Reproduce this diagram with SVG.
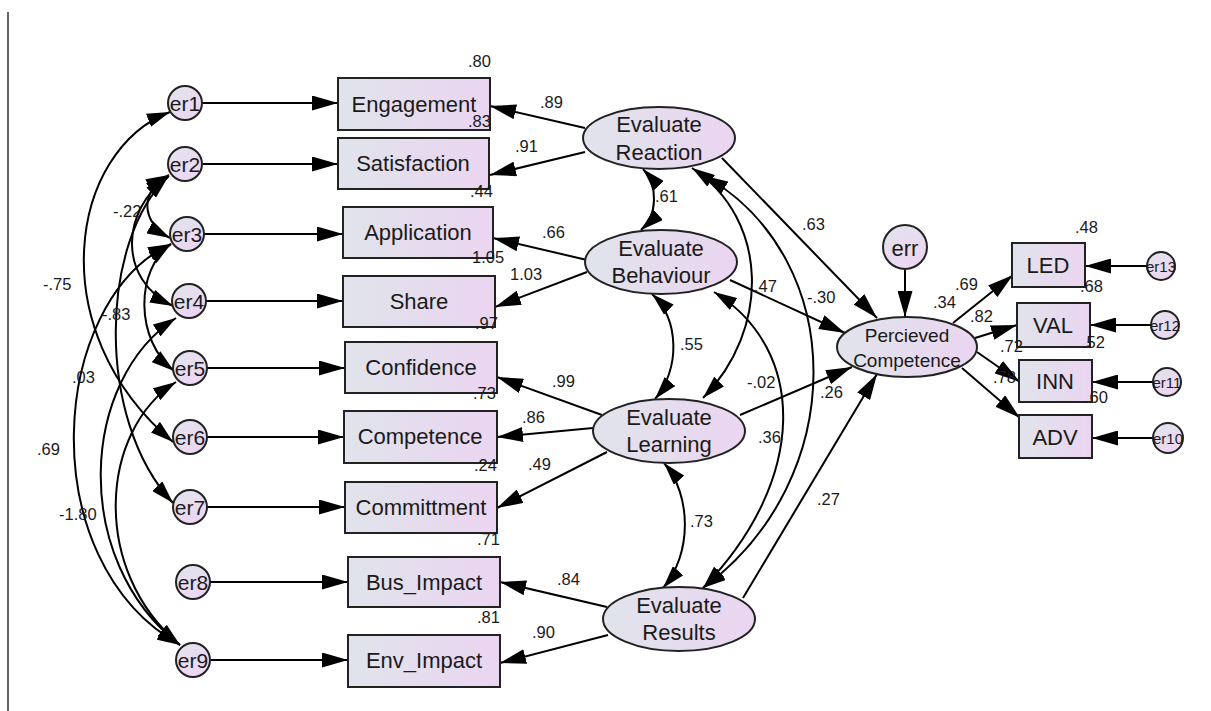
<svg xmlns="http://www.w3.org/2000/svg" width="1211" height="711" viewBox="0 0 1211 711">
<defs>
<linearGradient id="g" x1="0" y1="0" x2="1" y2="0"><stop offset="0" stop-color="#e0e4eb"/><stop offset="1" stop-color="#ebd5f1"/></linearGradient>
<linearGradient id="gc" x1="0" y1="0" x2="0.6" y2="1"><stop offset="0" stop-color="#e2e4ec"/><stop offset="1" stop-color="#ecd6f2"/></linearGradient>
<marker id="ah" viewBox="0 0 26 15" refX="26" refY="7.5" markerWidth="26" markerHeight="15" markerUnits="userSpaceOnUse" orient="auto-start-reverse"><path d="M0,0 L26,7.5 L0,15 z" fill="#000"/></marker>
<marker id="ahs" viewBox="0 0 23 14" refX="23" refY="7" markerWidth="23" markerHeight="14" markerUnits="userSpaceOnUse" orient="auto-start-reverse"><path d="M0,0 L23,7 L0,14 z" fill="#000"/></marker>
</defs>
<style>
.ln{fill:none;stroke:#000;stroke-width:2;marker-end:url(#ah)}
.cv{fill:none;stroke:#000;stroke-width:2;marker-start:url(#ahs);marker-end:url(#ahs)}
.bx{fill:url(#g);stroke:#222;stroke-width:2}
.el{fill:url(#g);stroke:#222;stroke-width:2}
.ci{fill:url(#gc);stroke:#222;stroke-width:2}
.t{font-family:"Liberation Sans",Arial,sans-serif;font-size:22px;fill:#1a1a1a;text-anchor:middle}
.tp{font-family:"Liberation Sans",Arial,sans-serif;font-size:19px;fill:#1a1a1a;text-anchor:middle}
.te{font-family:"Liberation Sans",Arial,sans-serif;font-size:21px;fill:#1a1a1a;text-anchor:middle}
.ts{font-family:"Liberation Sans",Arial,sans-serif;font-size:15px;fill:#1a1a1a;text-anchor:middle}
.n{font-family:"Liberation Sans",Arial,sans-serif;font-size:16.5px;fill:#1a1a1a}
</style>
<rect width="1211" height="711" fill="#fff"/>
<line x1="8" y1="12" x2="8" y2="711" stroke="#333" stroke-width="1.5"/>

<g id="connectors">
<!-- error to indicator -->
<line class="ln" x1="202" y1="103" x2="338" y2="103"/>
<line class="ln" x1="202" y1="164" x2="338" y2="164"/>
<line class="ln" x1="204" y1="234" x2="343" y2="234"/>
<line class="ln" x1="206" y1="301" x2="343" y2="301"/>
<line class="ln" x1="207" y1="368" x2="345" y2="368"/>
<line class="ln" x1="207" y1="437" x2="344" y2="437"/>
<line class="ln" x1="207" y1="507" x2="345" y2="507"/>
<line class="ln" x1="210" y1="582" x2="348" y2="582"/>
<line class="ln" x1="210" y1="660" x2="348" y2="660"/>
<!-- latent to indicators -->
<line class="ln" x1="585" y1="128" x2="490" y2="106"/>
<line class="ln" x1="585" y1="152" x2="490" y2="175"/>
<line class="ln" x1="587" y1="260" x2="493" y2="238"/>
<line class="ln" x1="587" y1="272" x2="495" y2="307"/>
<line class="ln" x1="602" y1="415" x2="497" y2="377"/>
<line class="ln" x1="593" y1="428" x2="497" y2="437"/>
<line class="ln" x1="607" y1="452" x2="497" y2="508"/>
<line class="ln" x1="607" y1="607" x2="500" y2="582"/>
<line class="ln" x1="608" y1="635" x2="500" y2="663"/>
<!-- structural -->
<line class="ln" x1="722" y1="158" x2="877" y2="318"/>
<line class="ln" x1="730" y1="280" x2="845" y2="333"/>
<line class="ln" x1="740" y1="415" x2="852" y2="367"/>
<line class="ln" x1="743" y1="598" x2="877" y2="374"/>
<line class="ln" x1="905" y1="269" x2="905" y2="317"/>
<line class="ln" x1="953" y1="323" x2="1013" y2="275"/>
<line class="ln" x1="975" y1="338" x2="1017" y2="325"/>
<line class="ln" x1="977" y1="352" x2="1020" y2="382"/>
<line class="ln" x1="962" y1="368" x2="1020" y2="418"/>
<line class="ln" x1="1147" y1="266" x2="1085" y2="266"/>
<line class="ln" x1="1151" y1="325" x2="1090" y2="325"/>
<line class="ln" x1="1153" y1="382" x2="1092" y2="382"/>
<line class="ln" x1="1153" y1="438" x2="1092" y2="438"/>
<!-- latent covariances -->
<path class="cv" d="M643,169 C658,185 658,215 641,230"/>
<path class="cv" d="M652,294 C680,320 680,370 655,399"/>
<path class="cv" d="M664,463 C692,495 692,555 663,588"/>
<path class="cv" d="M692,168 C770,220 770,330 703,398"/>
<path class="cv" d="M705,176 C850,260 850,480 703,588"/>
<path class="cv" d="M714,292 C808,350 808,480 703,588"/>
<!-- error covariances -->
<path class="cv" d="M169,175 C140,190 140,222 170,238"/>
<path class="cv" d="M169,176 C120,210 118,280 173,306"/>
<path class="cv" d="M171,244 C135,270 135,340 174,371"/>
<path class="cv" d="M170,112 C70,150 40,330 173,442"/>
<path class="cv" d="M168,177 C100,240 95,420 173,503"/>
<path class="cv" d="M171,244 C50,300 30,560 180,645"/>
<path class="cv" d="M176,318 C80,380 70,560 180,645"/>
<path class="cv" d="M176,382 C100,430 90,570 180,645"/>
</g>

<g id="er1"><circle class="ci" cx="185" cy="103" r="17"/><text class="te" x="185" y="111">er1</text></g>
<g id="er2"><circle class="ci" cx="185" cy="164" r="17"/><text class="te" x="185" y="172">er2</text></g>
<g id="er3"><circle class="ci" cx="187" cy="234" r="17"/><text class="te" x="187" y="242">er3</text></g>
<g id="er4"><circle class="ci" cx="189" cy="301" r="17"/><text class="te" x="189" y="309">er4</text></g>
<g id="er5"><circle class="ci" cx="190" cy="368" r="17"/><text class="te" x="190" y="376">er5</text></g>
<g id="er6"><circle class="ci" cx="190" cy="437" r="17"/><text class="te" x="190" y="445">er6</text></g>
<g id="er7"><circle class="ci" cx="190" cy="507" r="17"/><text class="te" x="190" y="515">er7</text></g>
<g id="er8"><circle class="ci" cx="193" cy="582" r="17"/><text class="te" x="193" y="590">er8</text></g>
<g id="er9"><circle class="ci" cx="193" cy="660" r="17"/><text class="te" x="193" y="668">er9</text></g>

<g id="Engagement"><rect class="bx" x="338" y="78" width="152" height="52"/><text class="t" x="414" y="112">Engagement</text></g>
<g id="Satisfaction"><rect class="bx" x="338" y="138" width="151" height="51"/><text class="t" x="413" y="171">Satisfaction</text></g>
<g id="Application"><rect class="bx" x="343" y="207" width="150" height="51"/><text class="t" x="418" y="240">Application</text></g>
<g id="Share"><rect class="bx" x="343" y="276" width="152" height="51"/><text class="t" x="419" y="309">Share</text></g>
<g id="Confidence"><rect class="bx" x="345" y="342" width="152" height="51"/><text class="t" x="421" y="375">Confidence</text></g>
<g id="Competence"><rect class="bx" x="344" y="411" width="153" height="52"/><text class="t" x="420" y="444">Competence</text></g>
<g id="Committment"><rect class="bx" x="345" y="482" width="152" height="51"/><text class="t" x="421" y="515">Committment</text></g>
<g id="Bus_Impact"><rect class="bx" x="348" y="557" width="152" height="50"/><text class="t" x="424" y="590">Bus_Impact</text></g>
<g id="Env_Impact"><rect class="bx" x="348" y="635" width="152" height="52"/><text class="t" x="424" y="668">Env_Impact</text></g>

<g id="EvalReaction"><ellipse class="el" cx="659" cy="138" rx="76" ry="31"/><text class="t" x="659" y="132">Evaluate</text><text class="t" x="659" y="160">Reaction</text></g>
<g id="EvalBehaviour"><ellipse class="el" cx="661" cy="262" rx="76" ry="32"/><text class="t" x="661" y="256">Evaluate</text><text class="t" x="661" y="283">Behaviour</text></g>
<g id="EvalLearning"><ellipse class="el" cx="669" cy="431" rx="76" ry="32"/><text class="t" x="669" y="425">Evaluate</text><text class="t" x="669" y="452">Learning</text></g>
<g id="EvalResults"><ellipse class="el" cx="679" cy="619" rx="76" ry="32"/><text class="t" x="679" y="613">Evaluate</text><text class="t" x="679" y="640">Results</text></g>

<g id="PercievedCompetence"><ellipse class="el" cx="907" cy="347" rx="70" ry="30"/><text class="tp" x="907" y="342">Percieved</text><text class="tp" x="907" y="367">Competence</text></g>
<g id="err"><circle class="ci" cx="905" cy="247" r="22"/><text class="t" x="905" y="256">err</text></g>

<g id="LED"><rect class="bx" x="1012" y="243" width="73" height="44"/><text class="t" x="1048" y="273">LED</text></g>
<g id="VAL"><rect class="bx" x="1017" y="303" width="73" height="44"/><text class="t" x="1053" y="333">VAL</text></g>
<g id="INN"><rect class="bx" x="1019" y="360" width="73" height="42"/><text class="t" x="1055" y="389">INN</text></g>
<g id="ADV"><rect class="bx" x="1019" y="415" width="73" height="43"/><text class="t" x="1055" y="445">ADV</text></g>

<g id="er13"><circle class="ci" cx="1161" cy="266" r="14"/><text class="ts" x="1161" y="272">er13</text></g>
<g id="er12"><circle class="ci" cx="1165" cy="325" r="14"/><text class="ts" x="1165" y="331">er12</text></g>
<g id="er11"><circle class="ci" cx="1167" cy="382" r="14"/><text class="ts" x="1167" y="388">er11</text></g>
<g id="er10"><circle class="ci" cx="1168" cy="438" r="15"/><text class="ts" x="1168" y="444">er10</text></g>

<g id="labels">
<text class="n" x="468" y="67">.80</text>
<text class="n" x="468" y="127">.83</text>
<text class="n" x="470" y="197">.44</text>
<text class="n" x="472" y="263">1.05</text>
<text class="n" x="475" y="329">.97</text>
<text class="n" x="473" y="399">.73</text>
<text class="n" x="474" y="471">.24</text>
<text class="n" x="477" y="545">.71</text>
<text class="n" x="477" y="623">.81</text>
<text class="n" x="540" y="108">.89</text>
<text class="n" x="515" y="152">.91</text>
<text class="n" x="542" y="238">.66</text>
<text class="n" x="510" y="280">1.03</text>
<text class="n" x="552" y="387">.99</text>
<text class="n" x="522" y="423">.86</text>
<text class="n" x="528" y="470">.49</text>
<text class="n" x="557" y="585">.84</text>
<text class="n" x="532" y="638">.90</text>
<text class="n" x="655" y="202">.61</text>
<text class="n" x="680" y="350">.55</text>
<text class="n" x="690" y="527">.73</text>
<text class="n" x="802" y="230">.63</text>
<text class="n" x="754" y="292">.47</text>
<text class="n" x="807" y="303">-.30</text>
<text class="n" x="747" y="388">-.02</text>
<text class="n" x="820" y="398">.26</text>
<text class="n" x="758" y="443">.36</text>
<text class="n" x="817" y="505">.27</text>
<text class="n" x="933" y="308">.34</text>
<text class="n" x="955" y="290">.69</text>
<text class="n" x="970" y="322">.82</text>
<text class="n" x="1000" y="352">.72</text>
<text class="n" x="993" y="383">.78</text>
<text class="n" x="1075" y="233">.48</text>
<text class="n" x="1080" y="292">.68</text>
<text class="n" x="1082" y="348">.52</text>
<text class="n" x="1085" y="403">.60</text>
<text class="n" x="113" y="217">-.22</text>
<text class="n" x="43" y="290">-.75</text>
<text class="n" x="102" y="320">-.83</text>
<text class="n" x="72" y="383">.03</text>
<text class="n" x="37" y="455">.69</text>
<text class="n" x="59" y="520">-1.80</text>
</g>
</svg>
